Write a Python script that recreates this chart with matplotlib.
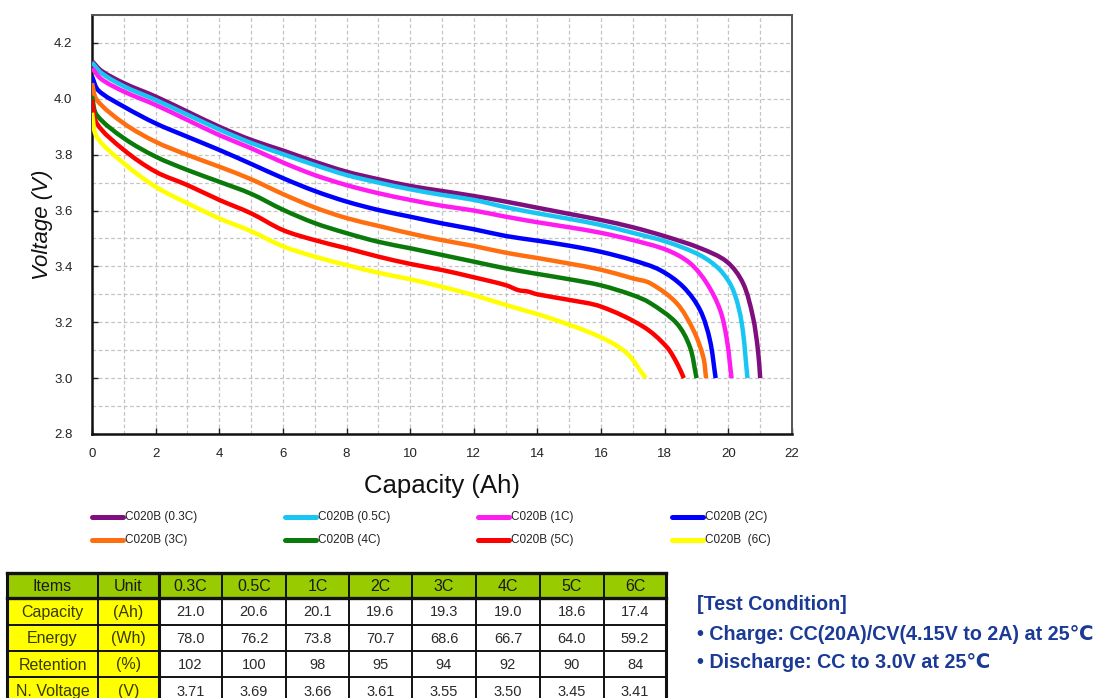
import matplotlib
matplotlib.use("Agg")
import numpy as np
import matplotlib.pyplot as plt
from matplotlib.lines import Line2D
from matplotlib.patches import Rectangle, PathPatch
from matplotlib.path import Path
from matplotlib.ticker import MultipleLocator

plt.rcParams['font.family'] = ['Liberation Sans', 'DejaVu Sans']

# ---- discharge curves: capacity (Ah) vs voltage (V) ----
cap_03 = [0, 0.3, 1, 2, 3, 4, 5, 6, 7, 8, 9, 10, 11, 12, 13, 14, 15, 16, 17, 18,
          19.1, 19.95, 20.46, 20.77, 20.93, 21.0]
v_03 = [4.135, 4.10, 4.056, 4.008, 3.954, 3.90, 3.853, 3.815, 3.775, 3.739, 3.712,
        3.688, 3.67, 3.652, 3.632, 3.61, 3.588, 3.566, 3.54, 3.508, 3.466, 3.417,
        3.34, 3.22, 3.10, 3.0]

cap_05 = [0, 0.3, 1, 2, 3, 4, 5, 6, 7, 8, 9, 10, 11, 12, 13, 14, 15, 16, 17, 18.06,
          19.11, 19.74, 20.15, 20.42, 20.6]
v_05 = [4.13, 4.092, 4.045, 3.996, 3.943, 3.89, 3.842, 3.802, 3.763, 3.727, 3.70,
        3.676, 3.656, 3.638, 3.612, 3.59, 3.57, 3.548, 3.52, 3.488, 3.44, 3.387,
        3.315, 3.197, 3.0]

cap_1 = [0, 0.3, 1, 2, 3, 4, 5, 6, 7, 8, 9, 10, 11, 12, 13, 14, 15, 16, 17, 18.06,
         18.79, 19.32, 19.74, 19.95, 20.1]
v_1 = [4.11, 4.07, 4.026, 3.978, 3.924, 3.87, 3.823, 3.772, 3.727, 3.691, 3.662,
       3.638, 3.617, 3.60, 3.578, 3.558, 3.54, 3.52, 3.494, 3.459, 3.412, 3.34,
       3.244, 3.14, 3.0]

cap_2 = [0, 0.2, 1, 2, 3, 4, 5, 6, 7, 8, 9, 10, 11, 12, 13, 14, 15, 16, 17, 17.85,
         18.58, 19.11, 19.42, 19.6]
v_2 = [4.08, 4.03, 3.972, 3.912, 3.864, 3.817, 3.767, 3.716, 3.670, 3.632, 3.602,
       3.578, 3.554, 3.533, 3.509, 3.492, 3.474, 3.452, 3.422, 3.387, 3.327, 3.244,
       3.136, 3.0]

cap_3 = [0, 0.15, 1, 2, 3, 4, 5, 6, 7, 8, 9, 10, 11, 12, 13, 14, 15, 16, 17, 17.54,
         18.37, 18.9, 19.21, 19.3]
v_3 = [4.056, 3.996, 3.912, 3.846, 3.799, 3.757, 3.712, 3.659, 3.611, 3.573, 3.545,
       3.518, 3.494, 3.473, 3.449, 3.43, 3.41, 3.388, 3.357, 3.34, 3.269, 3.172,
       3.076, 3.0]

cap_4 = [0, 0.15, 1, 2, 3, 4, 5, 6, 7, 8, 9, 10, 11, 12, 13, 14, 15, 16, 17, 17.54,
         18.37, 18.79, 19.0]
v_4 = [4.008, 3.942, 3.859, 3.793, 3.745, 3.703, 3.66, 3.603, 3.555, 3.519, 3.488,
       3.465, 3.441, 3.417, 3.393, 3.373, 3.354, 3.332, 3.297, 3.269, 3.197, 3.112,
       3.0]

cap_5 = [0, 0.15, 1, 2, 3, 4, 5, 6, 7, 8, 9, 10, 11, 12, 13, 13.4, 13.7, 14, 15, 16,
         17.33, 18.06, 18.4, 18.6]
v_5 = [3.996, 3.912, 3.817, 3.739, 3.691, 3.638, 3.59, 3.53, 3.494, 3.465, 3.435,
       3.409, 3.387, 3.361, 3.333, 3.315, 3.31, 3.30, 3.28, 3.256, 3.184, 3.112,
       3.05, 3.0]

cap_6 = [0, 0.15, 1, 2, 3, 4, 5, 6, 7, 8, 9, 10, 11, 12, 13, 14.39, 15.96, 16.8, 17.4]
v_6 = [3.95, 3.864, 3.769, 3.685, 3.626, 3.572, 3.526, 3.472, 3.435, 3.405, 3.377,
       3.354, 3.327, 3.297, 3.262, 3.215, 3.148, 3.09, 3.0]

series_caps = [cap_03, cap_05, cap_1, cap_2, cap_3, cap_4, cap_5, cap_6]
series_volts = [v_03, v_05, v_1, v_2, v_3, v_4, v_5, v_6]
series_labels = ["C020B (0.3C)", "C020B (0.5C)", "C020B (1C)", "C020B (2C)",
                 "C020B (3C)", "C020B (4C)", "C020B (5C)", "C020B  (6C)"]
series_colors = ["#7f0f7e", "#19c6f2", "#ff1cf0", "#0000ff",
                 "#ff6e0f", "#0a7a0a", "#ff0000", "#ffff00"]

# ---- summary table ----
table_header = ["Items", "Unit", "0.3C", "0.5C", "1C", "2C", "3C", "4C", "5C", "6C"]
table_items = ["Capacity", "Energy", "Retention", "N. Voltage"]
table_units = ["(Ah)", "(Wh)", "(%)", "(V)"]
capacity_vals = ["21.0", "20.6", "20.1", "19.6", "19.3", "19.0", "18.6", "17.4"]
energy_vals = ["78.0", "76.2", "73.8", "70.7", "68.6", "66.7", "64.0", "59.2"]
retention_vals = ["102", "100", "98", "95", "94", "92", "90", "84"]
voltage_vals = ["3.71", "3.69", "3.66", "3.61", "3.55", "3.50", "3.45", "3.41"]

test_title = "[Test Condition]"
test_lines = ["\u2022 Charge: CC(20A)/CV(4.15V to 2A) at 25\u2103",
              "\u2022 Discharge: CC to 3.0V at 25\u2103"]

W, H = 1102, 698
X0, X1, Y0, Y1 = 92, 792, 15, 434
XLIM, YLIM = (0, 22), (2.8, 4.3)


def smooth_path(xs, ys, sx, sy):
    """Bezier path through the measured points (chord-length tangents)."""
    p = np.column_stack([np.asarray(xs, float) * sx, np.asarray(ys, float) * sy])
    n = len(p)
    d = np.linalg.norm(np.diff(p, axis=0), axis=1)
    tang = np.zeros_like(p)
    tang[0] = (p[1] - p[0]) / d[0]
    tang[-1] = (p[-1] - p[-2]) / d[-1]
    for i in range(1, n - 1):
        tang[i] = (p[i + 1] - p[i - 1]) / (d[i - 1] + d[i])
    verts = [p[0]]
    codes = [Path.MOVETO]
    for i in range(n - 1):
        verts += [p[i] + tang[i] * d[i] / 3, p[i + 1] - tang[i + 1] * d[i] / 3, p[i + 1]]
        codes += [Path.CURVE4] * 3
    verts = np.array(verts) / np.array([sx, sy])
    return Path(verts, codes)


fig = plt.figure(figsize=(W / 100, H / 100), dpi=100)
fig.patch.set_facecolor("white")

# main chart axes
ax = fig.add_axes([X0 / W, 1 - Y1 / H, (X1 - X0) / W, (Y1 - Y0) / H])
sx = (X1 - X0) / (XLIM[1] - XLIM[0])
sy = (Y1 - Y0) / (YLIM[1] - YLIM[0])
for caps, volts, col in zip(series_caps, series_volts, series_colors):
    ax.add_patch(PathPatch(smooth_path(caps, volts, sx, sy), facecolor="none",
                           edgecolor=col, lw=3.2, joinstyle="round",
                           capstyle="butt", zorder=3))

ax.set_xlim(*XLIM)
ax.set_ylim(*YLIM)
ax.xaxis.set_minor_locator(MultipleLocator(1))
ax.yaxis.set_minor_locator(MultipleLocator(0.1))
ax.set_yticks([2.8, 3.0, 3.2, 3.4, 3.6, 3.8, 4.0, 4.2])
ax.set_yticklabels(["2.8", "3.0", "3.2", "3.4", "3.6", "3.8", "4.0", "4.2"])
ax.set_xticks(range(0, 23, 2))
ax.grid(which="both", color="#c4c4c4", lw=0.9, ls=(0, (3, 2)), zorder=0)
ax.tick_params(which="major", direction="in", length=4, width=1,
               labelsize=9.5, colors="#222222")
ax.tick_params(axis="x", pad=10)
ax.tick_params(axis="y", pad=14)
ax.tick_params(which="minor", length=0)
for side in ("left", "bottom"):
    ax.spines[side].set_color("#111111")
    ax.spines[side].set_linewidth(1.8)
for side in ("top", "right"):
    ax.spines[side].set_color("#555555")
    ax.spines[side].set_linewidth(1.4)

ax.set_xlabel("Capacity (Ah)", fontsize=18.5, color="#111111", labelpad=10)
ax.set_ylabel("Voltage (V)", fontsize=16, style="italic", color="#111111", labelpad=1)

# overlay in pixel coordinates for legend, table and notes
ov = fig.add_axes([0, 0, 1, 1])
ov.set_xlim(0, W)
ov.set_ylim(H, 0)
ov.axis("off")
ov.patch.set_alpha(0)

leg_cols = [92, 285, 478, 672]
leg_rows = [517, 540]
for i, (col, lab) in enumerate(zip(series_colors, series_labels)):
    lx = leg_cols[i % 4]
    ly = leg_rows[i // 4]
    ov.add_line(Line2D([lx, lx + 31], [ly, ly], color=col, lw=3.6,
                       solid_capstyle="round"))
    ov.text(lx + 33, ly, lab, fontsize=8.5, color="#222222", va="center", ha="left")

# table
col_edges = [7, 98, 159, 222, 286, 349, 412, 476, 540, 604, 666]
row_edges = [573, 598, 625, 651, 677, 704]
body = [capacity_vals, energy_vals, retention_vals, voltage_vals]

for c in range(len(table_header)):
    cx0, cx1 = col_edges[c], col_edges[c + 1]
    ry0, ry1 = row_edges[0], row_edges[1]
    ov.add_patch(Rectangle((cx0, ry0), cx1 - cx0, ry1 - ry0, facecolor="#99cc00",
                           edgecolor="none"))
    ov.text((cx0 + cx1) / 2, (ry0 + ry1) / 2 + 1, table_header[c], fontsize=11.5,
            color="#1a1a1a", ha="center", va="center")

for r in range(4):
    ry0, ry1 = row_edges[r + 1], row_edges[r + 2]
    cells = [table_items[r], table_units[r]] + body[r]
    for c, txt in enumerate(cells):
        cx0, cx1 = col_edges[c], col_edges[c + 1]
        fc = "#ffff00" if c < 2 else "white"
        ov.add_patch(Rectangle((cx0, ry0), cx1 - cx0, ry1 - ry0, facecolor=fc,
                               edgecolor="none"))
        tc = "#3a3a00" if c < 2 else "#2a2a2a"
        fs = 11.5 if c < 2 else 10.5
        ov.text((cx0 + cx1) / 2, (ry0 + ry1) / 2 + 1, txt, fontsize=fs, color=tc,
                ha="center", va="center")

# grid lines of the table
for x in col_edges:
    lw = 2.2 if x in (7, 159, 666) else 1.4
    ov.add_line(Line2D([x, x], [row_edges[0], row_edges[-1]], color="#111111", lw=lw))
for y in row_edges[:-1]:
    lw = 2.4 if y in (573, 598) else 1.4
    ov.add_line(Line2D([col_edges[0], col_edges[-1]], [y, y], color="#111111", lw=lw))

# test condition notes
note_color = "#1b3a96"
for ty, txt in zip([605, 634, 663], [test_title] + test_lines):
    ov.text(697, ty, txt, fontsize=14.2, fontweight="bold", color=note_color,
            ha="left", va="center")

fig.savefig("out.png", dpi=100, facecolor="white")
